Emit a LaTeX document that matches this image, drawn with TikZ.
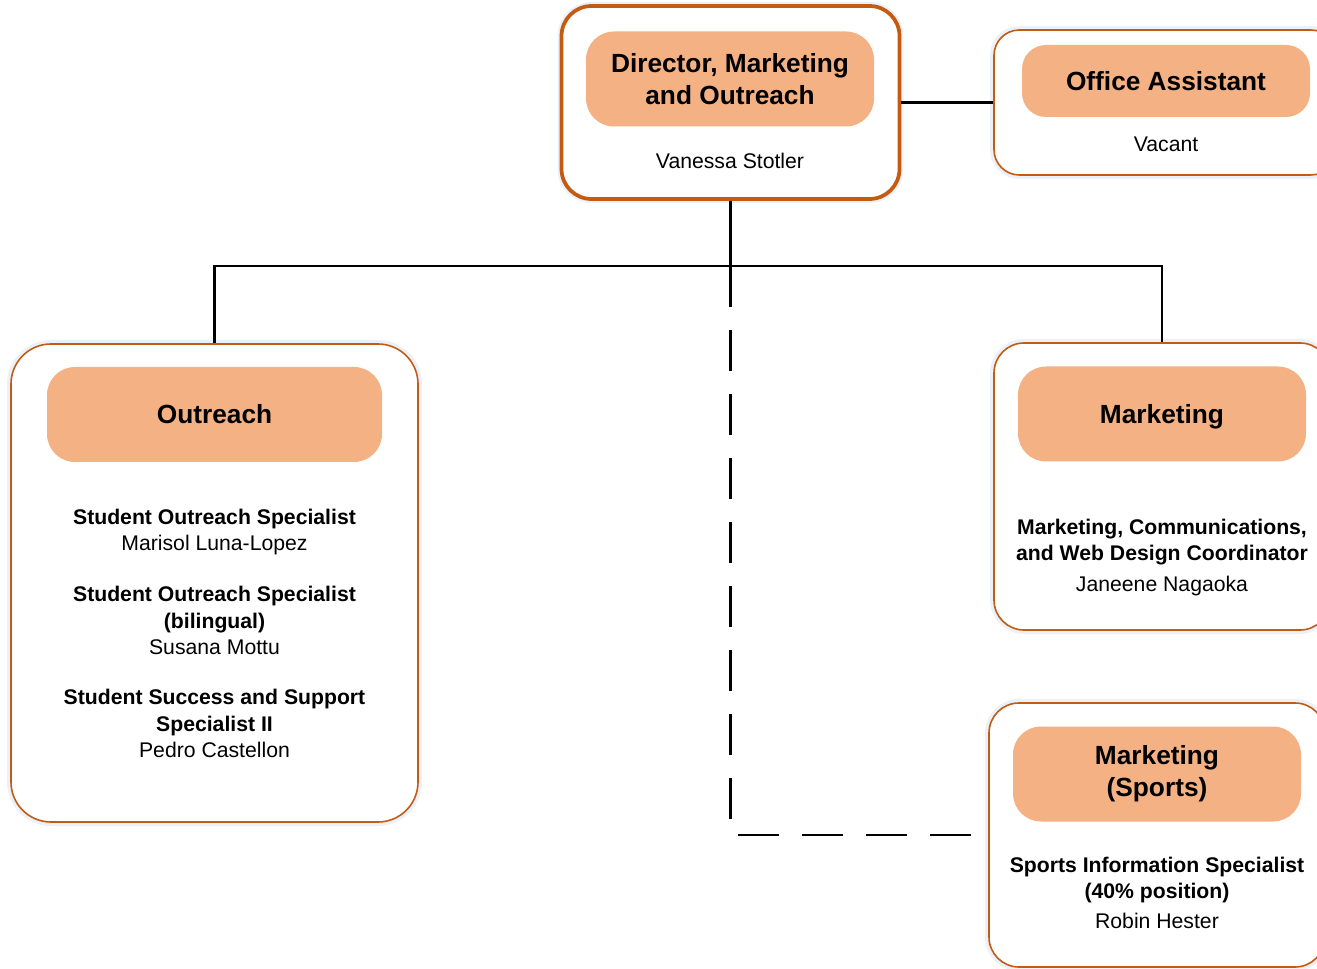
\documentclass[tikz,border=0pt]{standalone}
\usepackage{fontspec}
\setmainfont{Liberation Sans}
\usepackage{tikz}
\usetikzlibrary{positioning}
\definecolor{rim}{RGB}{197,90,17}
\definecolor{peach}{RGB}{244,177,131}
\definecolor{glow}{RGB}{236,241,249}

\begin{document}
\begin{tikzpicture}[x=0.75pt,y=-0.75pt,
    unitbox/.style={draw=rim, fill=white, line width=1.2pt, preaction={draw=glow, line width=6pt}},
    headbox/.style={fill=peach, minimum width=216pt, minimum height=71.25pt, rounded corners=21pt, align=center, font=\fontsize{19.7}{24}\selectfont\bfseries},
    staff/.style={align=center, font=\fontsize{15.9}{19.6}\selectfont},
    link/.style={black, line width=1.7pt},
    dotted link/.style={black, line width=1.7pt, dash pattern=on 30.75pt off 17.25pt}]
\useasboundingbox (0,0) rectangle (1317,969);
\clip (0,0) rectangle (1317,969);

% boxes
\node[unitbox, line width=2.8pt, minimum width=253.5pt, minimum height=144.75pt, rounded corners=22.5pt] (dir) at (730.5,102.5) {};
\node[unitbox, minimum width=256.5pt, minimum height=108.75pt, rounded corners=19pt] (office) at (1165,102.5) {};
\node[unitbox, minimum width=305.25pt, minimum height=358.5pt, rounded corners=30pt] (outreach) at (214.5,583) {};
\node[unitbox, minimum width=252pt, minimum height=215.25pt, rounded corners=22.5pt] (mkt) at (1162,486.5) {};
\node[unitbox, minimum width=252pt, minimum height=198pt, rounded corners=22.5pt] (sports) at (1157,835) {};

% headings
\node[headbox] (dirhead) at (730,79) {Director, Marketing\\and Outreach};
\node[headbox, minimum height=54pt, rounded corners=18pt] (officehead) at (1166,81) {Office Assistant};
\node[headbox, minimum width=251.25pt] (outreachhead) at (214.5,414.5) {Outreach};
\node[headbox, text depth=0pt] (mkthead) at (1162,414) {Marketing};
\node[headbox] (sportshead) at (1157,774) {Marketing\\(Sports)};

% names
\node[staff] (dirname) at (730,161) {Vanessa Stotler};
\node[staff] (officename) at (1166,144) {Vacant};
\node[staff] (os1) at (214.5,532) {\textbf{Student Outreach Specialist}\\Marisol Luna-Lopez};
\node[staff] (os2) at (214.5,620.5) {\textbf{Student Outreach Specialist}\\\textbf{(bilingual)}\\Susana Mottu};
\node[staff] (os3) at (214.5,723.5) {\textbf{Student Success and Support}\\\textbf{Specialist II}\\Pedro Castellon};
\node[staff] (mktname) at (1162,557.5) {\textbf{Marketing, Communications,}\\\textbf{and Web Design Coordinator}\\[3pt]Janeene Nagaoka};
\node[staff] (sportsname) at (1157,893) {\textbf{Sports Information Specialist}\\\textbf{(40\% position)}\\[3pt]Robin Hester};

% lines
\coordinate (hub) at (dir.south |- 0,266);
\draw[link] (dir.east) -- (office.west);
\draw[link] (dir.south) -- (hub);
\draw[link] (outreach.north) |- (hub) -| (mkt.north);
\draw[dotted link] (hub) |- (sports.west);

\end{tikzpicture}
\end{document}
